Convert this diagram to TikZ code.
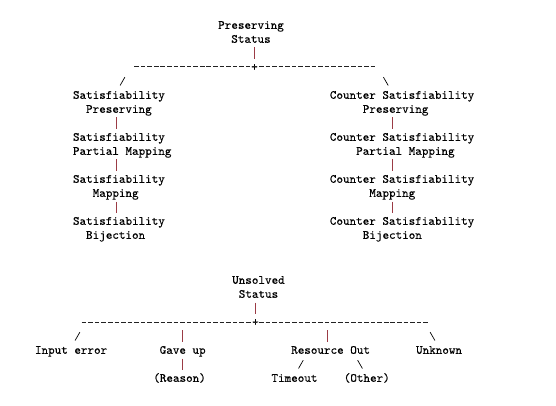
\documentclass[tikz,border=0pt]{standalone}
\usepackage{fontspec}
\newfontfamily\stmono{lmmono10-regular.otf}[FakeBold=0.35]

\begin{document}
\begin{tikzpicture}[x=1pt, y=-1pt, line join=round,
  lbl/.style={font=\fontsize{12.5}{14}\selectfont\stmono, inner sep=0pt, anchor=base west, text height=9pt, text depth=3pt},
  jn/.style={lbl, anchor=base},
  bar/.style={stbar, line width=0.8pt, shorten <=1.5pt, shorten >=2.5pt},
  rule/.style={stdash, line width=0.8pt, dash pattern=on 4.6pt off 1.97pt},
  slant/.style={black, line width=0.7pt, line cap=round}]
\definecolor{stbar}{HTML}{9B3B45}
\definecolor{stdash}{HTML}{222222}
\useasboundingbox (0,0) rectangle (556,406);
% ---- preserving status ----
\node[lbl] (ps1) at (218.0,28.8) {Preserving};
\node[lbl] (ps2) at (231.1,42.8) {Status};
\node[jn] (pj) at (254.5,70.8) {+};
\coordinate (pl) at (134.2,66.5);
\coordinate (pr) at (375.4,66.5);
\draw[rule] (pl) -- (pr);
\draw[bar] (ps2.south -| pj) -- (pj.north);
% ---- satisfiability column ----
\node[lbl] (sp1) at (72.8,98.8) {Satisfiability};
\node[lbl] (sp2) at (85.9,112.8) {Preserving};
\node[lbl] (spm1) at (72.8,140.8) {Satisfiability};
\node[lbl] (spm2) at (72.8,154.8) {Partial Mapping};
\node[lbl] (sm1) at (72.8,182.8) {Satisfiability};
\node[lbl] (sm2) at (92.5,196.8) {Mapping};
\node[lbl] (sb1) at (72.8,224.8) {Satisfiability};
\node[lbl] (sb2) at (85.9,238.8) {Bijection};
\coordinate (xl) at (116.5,0);
\foreach \a/\b in {sp2/spm1, spm2/sm1, sm2/sb1}
  \draw[bar] (\a.south -| xl) -- (\b.north -| xl);
% ---- counter satisfiability column ----
\node[lbl] (cp1) at (329.7,98.8) {Counter Satisfiability};
\node[lbl] (cp2) at (362.6,112.8) {Preserving};
\node[lbl] (cpm1) at (329.7,140.8) {Counter Satisfiability};
\node[lbl] (cpm2) at (356.0,154.8) {Partial Mapping};
\node[lbl] (cm1) at (329.7,182.8) {Counter Satisfiability};
\node[lbl] (cm2) at (369.1,196.8) {Mapping};
\node[lbl] (cb1) at (329.7,224.8) {Counter Satisfiability};
\node[lbl] (cb2) at (362.6,238.8) {Bijection};
\coordinate (xr) at (392.5,0);
\foreach \a/\b in {cp2/cpm1, cpm2/cm1, cm2/cb1}
  \draw[bar] (\a.south -| xr) -- (\b.north -| xr);
% ---- unsolved status ----
\node[lbl] (us1) at (232.0,283.8) {Unsolved};
\node[lbl] (us2) at (238.6,297.8) {Status};
\node[jn] (uj) at (255.5,325.8) {+};
\coordinate (ul) at (81.7,322.5);
\coordinate (ur) at (428.5,322.5);
\draw[rule] (ul) -- (ur);
\draw[bar] (us2.south -| uj) -- (uj.north);
\node[lbl] (ie) at (34.8,353.8) {Input error};
\node[lbl] (gu) at (159.5,353.8) {Gave up};
\node[lbl] (rs) at (153.1,381.8) {(Reason)};
\node[lbl] (ro) at (291.0,353.8) {Resource Out};
\node[lbl] (to) at (271.3,381.8) {Timeout};
\node[lbl] (ot) at (343.6,381.8) {(Other)};
\node[lbl] (uk) at (415.9,353.8) {Unknown};
\coordinate (xro) at (327.5,0);
\draw[bar, shorten <=7.8pt] (gu.north |- ul) -- (gu.north);
\draw[bar, shorten <=7.8pt] (xro |- ul) -- (xro |- ro.north);
\draw[bar] (gu.south) -- (gu.south |- rs.north);
% ---- slanted branches ----
\foreach \x/\y/\d in {122.5/84.8/2.3, 385.8/84.8/-2.3, 77.5/339.8/2.3, 432.5/339.8/-2.3, 300.9/367.8/2.3, 360.0/367.8/-2.3}
  \draw[slant] ({\x-(\d)},{\y+0.5}) -- ({\x+(\d)},{\y-7.5});
\end{tikzpicture}
\end{document}
